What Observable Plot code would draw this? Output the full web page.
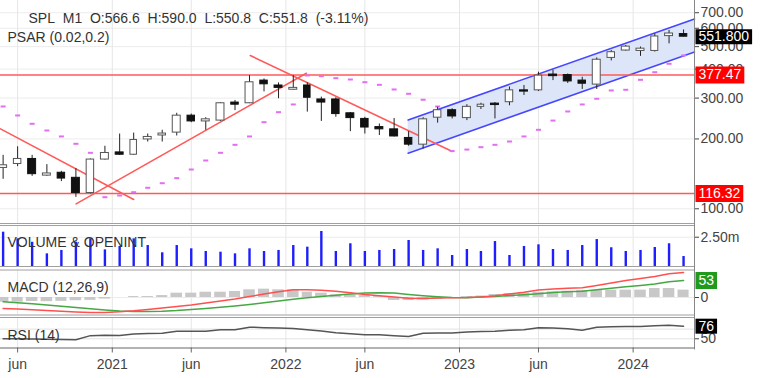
<!DOCTYPE html>
<html><head><meta charset="utf-8">
<script src="https://cdn.jsdelivr.net/npm/d3@7"></script>
<script src="https://cdn.jsdelivr.net/npm/@observablehq/plot@0.6"></script>
<style>
html,body{margin:0;padding:0;background:#fff;}
#chart{position:relative;width:779px;height:378px;overflow:hidden;background:#fff;}
#chart svg{position:absolute;left:0;}
</style></head><body><div id="chart"></div>
<script>
// ---------- data ----------
const months = ["2020-05","2020-06","2020-07","2020-08","2020-09","2020-10","2020-11","2020-12",
"2021-01","2021-02","2021-03","2021-04","2021-05","2021-06","2021-07","2021-08","2021-09","2021-10","2021-11","2021-12",
"2022-01","2022-02","2022-03","2022-04","2022-05","2022-06","2022-07","2022-08","2022-09","2022-10","2022-11","2022-12",
"2023-01","2023-02","2023-03","2023-04","2023-05","2023-06","2023-07","2023-08","2023-09","2023-10","2023-11","2023-12",
"2024-01","2024-02","2024-03","2024-04"];
const openP  = [150,156,164,139,143,136,117,163,175,171,199,207,213,252,238,240,287,285,357,340,326,340,296,296,258,244,225,220,202,189,247,266,246,275,284,288,324,324,379,377,357,343,447,481,479,479,555,566.6];
const highP  = [170,185,170,155,145,149,164,186,210,212,210,218,258,256,247,287,293,375,363,349,375,349,303,301,260,248,232,245,215,247,274,270,281,285,287,335,340,388,396,381,369,447,481,506,498,567,587,590.0];
const lowP   = [134,152,138,138,131,112,116,162,170,170,194,194,206,235,218,238,265,284,319,298,325,261,238,248,215,210,207,204,186,181,234,244,240,268,244,278,308,320,357,347,327,327,434,478,454,474,514,550.8];
const closeP = [154,164,141,142,135,117,163,174,171,198,204,211,252,238,243,285,281,351,344,332,332,301,287,256,246,224,220,205,189,243,266,250,275,281,280,324,320,375,373,354,346,439,473,500,490,553,569.5,551.8];
const volumeM = [2.93,2.36,2.07,1.08,1.37,2.07,2.36,1.42,1.71,2.36,1.79,1.17,1.79,1.51,1.28,1.22,1.08,1.51,1.28,1.37,1.79,1.65,2.99,1.28,1.94,1.28,1.37,1.45,2.22,1.37,1.51,0.94,1.45,1.28,2.13,0.94,1.71,1.85,1.45,1.37,1.79,2.30,1.60,1.28,1.37,1.62,1.94,0.85];
const psar = [276,252.5,232.5,217.5,205,190.6,174.3,112.2,114.1,117.9,123.2,128.9,135.5,147.7,161.5,174.3,188.7,205,236.2,260.9,281.6,375.5,372.9,365.5,360.8,351.3,342.3,326.8,313.1,295.1,276,177.4,180,184.3,188.7,195,205,219,240,262.7,281.6,298,323.6,325.8,359.7,387.9,421.7,458];
const macdLine   = [-34,-36,-38,-40.6,-43,-45,-47,-47,-44.6,-41.5,-37.4,-32.8,-28,-23.4,-17.2,-11,-4.7,3,11,17.8,24,24,22.5,19.3,14.7,9.4,5.3,1.6,-2.5,-3,-1.9,-0.6,0,1.6,5.6,11,16.5,23.4,26.5,28.7,30.3,37.4,45,53,59.3,65.5,74,78];
const signalLine = [-13.4,-16.5,-19.7,-23.4,-27.5,-31.2,-35.3,-39,-42,-43.7,-43.7,-42.7,-40.6,-37.4,-34.3,-30.6,-26.5,-21.8,-16.5,-11,-5.6,-1,3,6.9,11,14,15,14,9.4,5.3,2.2,0,-1,1.6,3,6.2,8.7,11.9,15.6,18,19.7,24,28.7,33.4,37.4,42,49.3,53];
const macdHist   = [-14.6,-14.6,-12.5,-13,-12,-10,-9,-5,0,3,3,6,13.5,13.5,16.5,16.5,18.7,24,26,24,24,16.5,13.5,8.3,8.3,6,3,-9.4,-9.4,-8,-6,-3,3,4.7,9.4,12.5,13.5,15.6,17.7,19.7,22,22,23,23,23,28,28,23];
const rsi = [50,50,49.5,49,48.5,48,56.5,57.5,57,60,61,61.5,65.5,65.5,65.7,68.5,68.8,74,73,72,71.2,68.5,66,62.5,60.5,58.5,58.2,56.5,54.7,61.5,62,61.8,64,65,65.7,67.5,68.6,72.7,72.2,70.5,67.5,74,75,75.4,75.5,77,78,76];

const levels = [377.47, 116.32];
const priceTicks = [100,200,300,400,500,600,700];
const xTickDates = ["2020-06-16","2021-01-01","2021-06-16","2022-01-01","2022-06-16","2023-01-01","2023-06-16","2024-01-01"];
const xTickLabels = ["jun","2021","jun","2022","jun","2023","jun","2024"];
const xDomain = [new Date("2020-05-11T00:00Z"), new Date("2024-05-09T00:00Z")];
const priceDomain = [86.42, 790.3];
const volDomain = [0, 3.5e6];
const macdDomain = [-54.6, 85.8];
const rsiDomain = [31, 93.9];

// trend lines (date, price)
const trendDates  = [["2020-05-11","2021-02-15"],["2020-10-17","2022-02-13"],["2021-10-18","2022-12-17"]];
const trendPrices = [[221,109.7],[105,384],[458,176.6]];
const channelDates = ["2022-09-15","2024-05-09"];
const channelUpper = [241.4, 658];
const channelLower = [173.7, 474];

// ---------- build ----------
const mid = m => { const a = new Date(m + "-01T00:00Z"); const b = d3.utcMonth.offset(a, 1); return new Date((+a + +b) / 2); };
const candles = months.map((m, i) => ({date: mid(m), o: openP[i], h: highP[i], l: lowP[i], c: closeP[i], up: closeP[i] >= openP[i]}));
const series = months.map((m, i) => ({date: mid(m), vol: volumeM[i] * 1e6, sar: psar[i], macd: macdLine[i], sig: signalLine[i], hist: macdHist[i], rsi: rsi[i]}));
const trends = trendDates.flatMap((ds, k) => ds.map((d, j) => ({id: k, date: new Date(d + "T00:00Z"), price: trendPrices[k][j]})));
const channel = channelDates.map((d, j) => ({date: new Date(d + "T00:00Z"), upper: channelUpper[j], lower: channelLower[j]}));
const xTicks = xTickDates.map(d => new Date(d + "T00:00Z"));
const tickLabel = new Map(xTicks.map((d, i) => [+d, xTickLabels[i]]));
const last = candles[candles.length - 1], prev = candles[candles.length - 2];
const pct = ((last.c / prev.c - 1) * 100).toFixed(2);
const header = `SPL\u00a0\u00a0M1\u00a0\u00a0O:${last.o.toFixed(1)}\u00a0\u00a0H:${last.h.toFixed(1)}\u00a0\u00a0L:${last.l.toFixed(1)}\u00a0\u00a0C:${last.c.toFixed(1)}\u00a0\u00a0(${pct}%)`;

const FONT = "'Liberation Sans', Arial, Helvetica, sans-serif";
const FS = 14;
const ctx2d = document.createElement("canvas").getContext("2d");
ctx2d.font = `${FS}px 'Liberation Sans'`;
const tw = t => ctx2d.measureText(t).width;
const boxSymbol = (w, h) => ({draw(ctx) { ctx.rect(1, -h / 2, w, h); }});
function valueBox(value, text, fill, h) {
  return [
    Plot.dot([value], {y: d => d, frameAnchor: "right", symbol: boxSymbol(tw(text) + 6, h), fill, stroke: "none"}),
    Plot.text([value], {y: d => d, text: () => text, frameAnchor: "right", dx: 4, textAnchor: "start", fill: "white", fontSize: FS})
  ];
}
const common = {
  width: 779, marginLeft: 0, marginRight: 85,
  x: {type: "utc", domain: xDomain, axis: null},
  style: {fontFamily: FONT, fontSize: FS + "px", color: "#444", background: "none", overflow: "visible"}
};
const gridX = () => Plot.gridX(xTicks, {stroke: "#e6e6e6", strokeOpacity: 1});
const rightLine = () => Plot.ruleX([xDomain[1]], {stroke: "#888", insetTop: -2, insetBottom: -2});
const sepColor = "#a0a0a0";
const sarSymbol = {draw(ctx) { ctx.rect(-2.5, -1, 5, 2); }};

const pricePlot = Plot.plot({
  ...common, height: 224, marginTop: 0, marginBottom: 1,
  y: {type: "log", domain: priceDomain, axis: null, label: null},
  marks: [
    Plot.gridY(priceTicks, {stroke: "#ececec", strokeOpacity: 1}),
    gridX(),
    Plot.areaY(channel, {x: "date", y1: "lower", y2: "upper", fill: "#dde5f8"}),
    Plot.line(channel, {x: "date", y: "upper", stroke: "#4646ff", strokeWidth: 1.6}),
    Plot.line(channel, {x: "date", y: "lower", stroke: "#4646ff", strokeWidth: 1.6}),
    Plot.ruleY(levels, {stroke: "#ff5a5a", strokeWidth: 1.6}),
    Plot.line(trends, {x: "date", y: "price", z: "id", stroke: "#ff5a5a", strokeWidth: 1.6, clip: true}),
    Plot.dot(series, {x: "date", y: "sar", symbol: sarSymbol, fill: "#e26ef0", stroke: "none"}),
    Plot.ruleX(candles, {x: "date", y1: "l", y2: "h", stroke: "#222", strokeWidth: 1}),
    Plot.rectY(candles, {x: "date", interval: d3.utcMonth, y1: d => Math.min(d.o, d.c), y2: d => Math.max(d.o, d.c),
      fill: d => d.up ? "#ffffff" : "#111111", stroke: d => d.up ? "#555555" : "#111111", strokeWidth: 1, insetLeft: 3.4, insetRight: 3.4}),
    Plot.ruleY([priceDomain[0]], {stroke: sepColor}),
    rightLine(),
    Plot.axisY(priceTicks, {anchor: "right", label: null, tickFormat: d => d.toFixed(2), tickSize: 4, tickPadding: 2, fontSize: FS}),
    ...valueBox(last.c, last.c.toFixed(3), "#000000", 15),
    ...valueBox(levels[0], levels[0].toFixed(2), "#ff0000", 17),
    ...valueBox(levels[1], levels[1].toFixed(2), "#ff0000", 17),
    Plot.text([header], {frameAnchor: "top-left", dx: 28, dy: 13, textAnchor: "start", fill: "#333", fontSize: FS}),
    Plot.text(["PSAR (0.02,0.2)"], {frameAnchor: "top-left", dx: 7, dy: 31.5, textAnchor: "start", fill: "#333", fontSize: FS})
  ]
});

const volPlot = Plot.plot({
  ...common, height: 44, marginTop: 1, marginBottom: 2,
  y: {domain: volDomain, axis: null, label: null},
  marks: [
    gridX(),
    Plot.gridY([2.5e6], {stroke: "#ececec", strokeOpacity: 1}),
    Plot.ruleX(series, {x: "date", y1: 0, y2: "vol", stroke: "#1e1eff", strokeWidth: 2.4}),
    Plot.ruleY([volDomain[0], volDomain[1]], {stroke: sepColor}),
    rightLine(),
    Plot.axisY([2.5e6], {anchor: "right", label: null, tickFormat: d => (d / 1e6).toFixed(2) + "m", tickSize: 4, tickPadding: 2, fontSize: FS}),
    Plot.text(["VOLUME & OPENINT"], {frameAnchor: "top-left", dx: 7, dy: 12, textAnchor: "start", fill: "#333", fontSize: FS})
  ]
});

const macdPlot = Plot.plot({
  ...common, height: 48, marginTop: 1.5, marginBottom: 1.5,
  y: {domain: macdDomain, axis: null, label: null},
  marks: [
    gridX(),
    Plot.gridY([0], {stroke: "#ececec", strokeOpacity: 1}),
    Plot.rectY(series, {x: "date", interval: d3.utcMonth, y1: 0, y2: "hist", fill: "#c8c8c8", insetLeft: 1.6, insetRight: 1.6}),
    Plot.line(series, {x: "date", y: "sig", stroke: "#45a845", strokeWidth: 1.5}),
    Plot.line(series, {x: "date", y: "macd", stroke: "#ff5050", strokeWidth: 1.5}),
    Plot.ruleY([macdDomain[0], macdDomain[1]], {stroke: sepColor}),
    rightLine(),
    Plot.axisY([0], {anchor: "right", label: null, tickFormat: d => String(d), tickSize: 4, tickPadding: 2, fontSize: FS}),
    ...valueBox(signalLine[signalLine.length - 1], String(signalLine[signalLine.length - 1]), "#1f9a1f", 17),
    Plot.text(["MACD (12,26,9)"], {frameAnchor: "top-left", dx: 7, dy: 12.5, textAnchor: "start", fill: "#333", fontSize: FS})
  ]
});

const rsiPlot = Plot.plot({
  ...common, height: 62, marginTop: 1, marginBottom: 30.5,
  y: {domain: rsiDomain, axis: null, label: null},
  marks: [
    gridX(),
    Plot.gridY([50, 70], {stroke: "#e2e2e2", strokeOpacity: 1}),
    Plot.line(series, {x: "date", y: "rsi", stroke: "#555", strokeWidth: 1.5}),
    Plot.ruleY([rsiDomain[1]], {stroke: sepColor}),
    Plot.ruleY([rsiDomain[0]], {stroke: "#666"}),
    rightLine(),
    Plot.axisY([50], {anchor: "right", label: null, tickFormat: d => String(d), tickSize: 4, tickPadding: 2, fontSize: FS}),
    ...valueBox(rsi[rsi.length - 1], String(rsi[rsi.length - 1]), "#000000", 15),
    Plot.axisX(xTicks, {anchor: "bottom", label: null, tickFormat: d => tickLabel.get(+d), tickSize: 5, tickPadding: 6, fontSize: FS, stroke: "#666"}),
    Plot.text(["RSI (14)"], {frameAnchor: "top-left", dx: 7, dy: 13, textAnchor: "start", fill: "#333", fontSize: FS})
  ]
});

const chart = document.getElementById("chart");
[[pricePlot, 0], [volPlot, 224], [macdPlot, 268], [rsiPlot, 316]].forEach(([p, top]) => {
  p.style.top = top + "px";
  chart.appendChild(p);
});
</script></body></html>
